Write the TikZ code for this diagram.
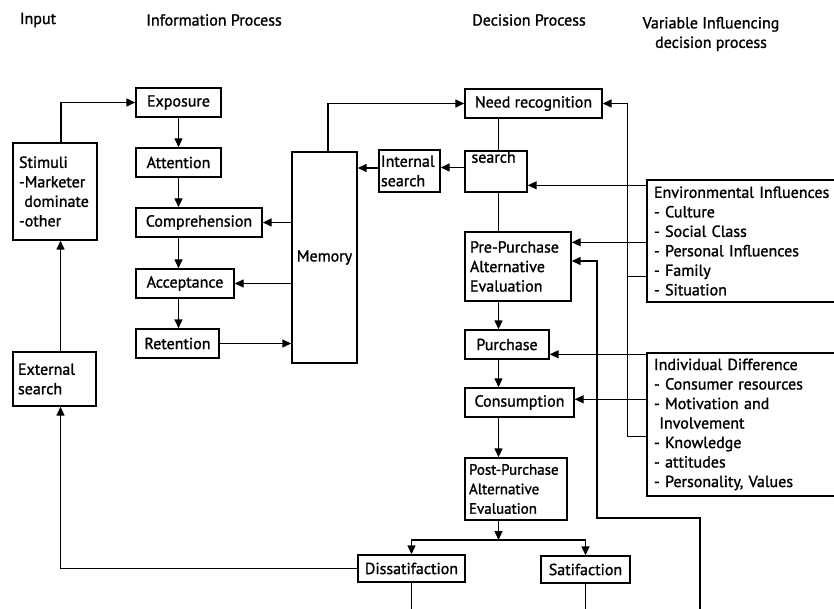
\documentclass[tikz,border=0pt]{standalone}
\usepackage{fontspec}
\setmainfont{PT Sans}[RawFeature={embolden=1.3}]
\usetikzlibrary{arrows.meta}
\newcommand\boxfont{\fontsize{16}{19.5}\selectfont}
\newcommand\narrowfont{\fontsize{15}{19.5}\selectfont}
\begin{document}
\begin{tikzpicture}[x=1pt,y=-1pt,
  box/.style={draw, line width=1.4pt, inner sep=0pt, font=\boxfont, minimum height=29pt},
  lbox/.style={box, align=left, inner xsep=6pt},
  conn/.style={line width=1.4pt},
  arr/.style={conn, -{Triangle[length=9pt,width=8pt]}},
  head/.style={font=\boxfont, align=center}]
\useasboundingbox (0,0) rectangle (834,609);

% column headings
\node[head] (hin)  at (38,20)  {Input};
\node[head] (hinf) at (214,20) {Information Process};
\node[head] (hdec) at (529,20) {Decision Process};
\node[head] (hvar) at (711,34) {Variable Influencing\\decision process};

% input column
\node[lbox, minimum width=84pt, minimum height=97pt, text width=72pt] (stim) at (55,191.5)
  {Stimuli\\-Marketer\\\ dominate\\-other};
\node[lbox, inner xsep=5pt, minimum width=83pt, minimum height=54pt, text width=73pt] (ext) at (54.5,379)
  {External\\search};

% information processing
\node[box, minimum width=85pt]  (expo) at (178.5,102.5) {Exposure};
\node[box, minimum width=85pt]  (att)  at (178.5,162.5) {Attention};
\node[box, minimum width=126pt] (comp) at (199,222.5)   {Comprehension};
\node[box, minimum width=98pt]  (acc)  at (185,283.5)   {Acceptance};
\node[box, minimum width=83pt]  (ret)  at (177.5,343.5) {Retention};
\node[box, minimum width=65pt, minimum height=211pt] (mem) at (324.5,257.5) {Memory};
\node[lbox, inner xsep=2pt, minimum width=61pt, minimum height=42pt, text width=57pt] (int) at (409.5,171)
  {Internal\\search};

% decision process
\node[box, minimum width=137pt] (need) at (533.5,103.5) {Need recognition};
\node[box, minimum width=62pt, minimum height=41pt] (search) at (496,171.5) {};
\node[font=\boxfont, anchor=north west, inner sep=0pt] (searchlbl) at ([xshift=7pt,yshift=-1pt]search.north west) {search};
\node[lbox, inner xsep=5pt, minimum width=106pt, minimum height=69pt, text width=96pt] (pre) at (518,266.5)
  {Pre-Purchase\\Alternative\\Evaluation};
\node[box, minimum width=84pt]  (pur)  at (507,344.5)   {Purchase};
\node[box, minimum width=109pt] (cons) at (519.5,402.5) {Consumption};
\node[lbox, font=\narrowfont, inner xsep=4pt, minimum width=102pt, minimum height=62pt, text width=94pt] (post) at (516,489)
  {Post-Purchase\\Alternative\\Evaluation};
\node[box, minimum width=107pt, minimum height=27pt] (dis) at (411.5,568.5) {Dissatifaction};
\node[box, minimum width=89pt,  minimum height=27pt] (sat) at (585.5,569.5) {Satifaction};

% influencing variables
\node[lbox, inner xsep=7pt, minimum width=200pt, minimum height=122pt, text width=186pt] (env) at (747,241)
  {Environmental Influences\\- Culture\\- Social Class\\- Personal Influences\\- Family\\- Situation};
\node[lbox, inner xsep=7pt, minimum width=200pt, minimum height=143pt, text width=186pt] (indiv) at (747,424.5)
  {Individual Difference\\- Consumer resources\\- Motivation and\\\ Involvement\\- Knowledge\\- attitudes\\- Personality, Values};

% helper coordinates
\coordinate (ispine) at (178.5,0);
\coordinate (dspine) at (498.5,0);
\coordinate (bus)    at (627.5,0);
\coordinate (fbx)    at (597,0);
\coordinate (split)  at (498.5,540);
\coordinate (fbend)  at (700,615);
\coordinate (fbturn) at (700,518);
\coordinate (bottom) at (0,615);

% input connectors
\draw[arr] ([xshift=6pt]stim.north) |- (expo.west);
\draw[arr] ([xshift=6pt]ext.north) -- ([xshift=6pt]ext.north |- stim.south);
\draw[arr] (dis.west) -| ([xshift=6pt]ext.south);

% information processing chain
\draw[arr] (expo.south -| ispine) -- (att.north -| ispine);
\draw[arr] (att.south -| ispine)  -- (comp.north -| ispine);
\draw[arr] (comp.south -| ispine) -- (acc.north -| ispine);
\draw[arr] (acc.south -| ispine)  -- (ret.north -| ispine);
\draw[arr] (mem.west |- comp.east) -- (comp.east);
\draw[arr] (mem.west |- acc.east)  -- (acc.east);
\draw[arr] (ret.east) -- (ret.east -| mem.west);
\draw[arr] ([xshift=3.5pt]mem.north) |- (need.west);
\draw[arr] ([yshift=3pt]int.west) -- ([yshift=3pt]int.west -| mem.east);
\draw[arr] ([yshift=4pt]search.west) -- ([yshift=4pt]search.west -| int.east);

% decision chain
\draw[conn] (need.south -| dspine) -- (search.north -| dspine);
\draw[conn] (search.south -| dspine) -- (pre.north -| dspine);
\draw[arr] (pre.south -| dspine)  -- (pur.north -| dspine);
\draw[arr] (pur.south -| dspine)  -- (cons.north -| dspine);
\draw[arr] (cons.south -| dspine) -- (post.north -| dspine);
\draw[arr] (post.south -| dspine) -- (split);
\draw[arr] (split) -| (dis.north);
\draw[arr] (split) -| (sat.north);
\draw[conn] (dis.south) -- (dis.south |- bottom);
\draw[conn] (sat.south) -- (sat.south |- bottom);

% influences
\draw[arr] ([yshift=-6pt]env.north west)  -- ([yshift=-6pt]env.north west -| search.east);
\draw[arr] ([yshift=-63pt]env.north west) -- ([yshift=-63pt]env.north west -| pre.east);
\draw[conn] ([yshift=-97pt]env.north west) -- ([yshift=-97pt]env.north west -| bus);
\draw[arr] ([yshift=-84pt]indiv.north west) -| (bus |- need.east) -- (need.east);
\draw[arr] ([yshift=-2pt]indiv.north west)  -- ([yshift=-2pt]indiv.north west -| pur.east);
\draw[arr] ([yshift=-47pt]indiv.north west) -- ([yshift=-47pt]indiv.north west -| cons.east);

% feedback into pre-purchase evaluation
\draw[arr] (fbend) -- (fbturn) -- (fbturn -| fbx) |- ([yshift=5.5pt]pre.east);
\end{tikzpicture}
\end{document}
